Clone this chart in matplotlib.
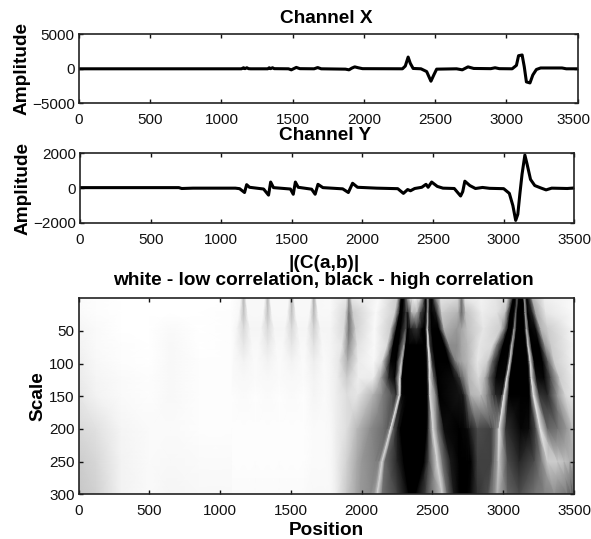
import numpy as np
import matplotlib
matplotlib.use('Agg')
import matplotlib.pyplot as plt
from matplotlib.transforms import ScaledTranslation

plt.rcParams['font.family'] = ['Liberation Sans', 'DejaVu Sans']

W, H = 591, 539

# channel X
x_pos = [0, 1140, 1155, 1165, 1178, 1190, 1205, 1325, 1335, 1345, 1358, 1370, 1470, 1490, 1510, 1525, 1550,
         1650, 1675, 1700, 1870, 1895, 1915, 1935, 1960, 1990, 2270, 2290, 2310, 2325, 2345, 2400, 2440,
         2470, 2490, 2510, 2650, 2690, 2730, 2770, 2890, 2920, 2950, 3040, 3070, 3085, 3110, 3125, 3140,
         3165, 3185, 3210, 3240, 3390, 3420, 3500]
x_amp = [0, 0, 150, 20, 150, 20, 0, 0, 150, 20, 150, 20, 0, -150, 50, 200, 20,
         0, 180, 0, -50, -150, 100, 280, 150, 20, 0, 400, 1700, 800, 50, 0, -400,
         -1800, -900, -50, 0, -150, 280, 50, 20, 150, 20, 0, 500, 1900, 2000, 300, -1900,
         -2050, -900, -100, 120, 120, 0, 0]

# channel Y
y_pos = [0, 700, 720, 800, 1100, 1130, 1165, 1180, 1200, 1300, 1335, 1350, 1370, 1490, 1510, 1525, 1545,
         1640, 1665, 1685, 1720, 1860, 1900, 1930, 1965, 2100, 2250, 2290, 2320, 2340, 2370, 2420, 2450,
         2465, 2490, 2530, 2570, 2650, 2695, 2710, 2725, 2760, 2800, 2850, 2900, 3000, 3040, 3065, 3085,
         3100, 3115, 3130, 3150, 3165, 3190, 3220, 3260, 3300, 3340, 3450, 3500]
y_amp = [30, 30, -20, 0, 0, -30, -250, 200, 50, -50, -400, 350, 30, -50, -350, 350, 50,
         -60, -350, 220, 30, -40, -250, 280, 50, 0, -30, -300, -80, -150, -20, 50, 220,
         50, 350, 100, 0, -20, -450, -200, 400, 150, -20, 40, -10, -30, -300, -1000, -1850,
         -1500, -300, 800, 1900, 1400, 500, 150, 20, -100, 0, -20, 10]

# |C(a,b)|: each entry follows one feature of the image down the scales
heat_scales = [0, 22, 47, 72, 97, 122, 148, 200, 250, 300]
heat_pos = [
    [0, 0, 0, 0, 0, 0, 0, 0, 0, 0],
    [120, 120, 120, 120, 120, 120, 120, 120, 120, 120],
    [300, 300, 300, 300, 300, 300, 300, 300, 300, 300],
    [500, 500, 500, 500, 500, 500, 500, 500, 500, 500],
    [650, 650, 650, 650, 650, 650, 650, 650, 650, 650],
    [850, 850, 850, 850, 850, 850, 850, 850, 850, 850],
    [1080, 1080, 1080, 1080, 1080, 1080, 1080, 1080, 1080, 1080],
    [1145, 1135, 1118, 1105, 1095, 1090, 1085, 1085, 1085, 1085],
    [1165, 1165, 1165, 1165, 1165, 1165, 1165, 1165, 1165, 1165],
    [1185, 1195, 1212, 1225, 1235, 1240, 1245, 1245, 1245, 1245],
    [1315, 1305, 1288, 1275, 1265, 1260, 1255, 1255, 1255, 1255],
    [1335, 1335, 1335, 1335, 1335, 1335, 1335, 1335, 1335, 1335],
    [1355, 1365, 1382, 1395, 1405, 1410, 1415, 1415, 1415, 1415],
    [1485, 1475, 1458, 1445, 1435, 1430, 1425, 1425, 1425, 1425],
    [1505, 1505, 1505, 1505, 1505, 1505, 1505, 1505, 1505, 1505],
    [1525, 1535, 1552, 1565, 1575, 1580, 1585, 1585, 1585, 1585],
    [1642, 1632, 1615, 1605, 1600, 1597, 1595, 1595, 1595, 1595],
    [1662, 1662, 1662, 1662, 1662, 1662, 1662, 1662, 1662, 1662],
    [1682, 1692, 1709, 1722, 1732, 1737, 1742, 1742, 1742, 1742],
    [1780, 1780, 1780, 1780, 1780, 1780, 1780, 1780, 1780, 1780],
    [1893, 1885, 1875, 1860, 1840, 1830, 1820, 1820, 1820, 1820],
    [1910, 1910, 1910, 1905, 1900, 1895, 1895, 1895, 1895, 1895],
    [1930, 1940, 1958, 1970, 1975, 1975, 1970, 1968, 1968, 1960],
    [2120, 2100, 2090, 2090, 2086, 2085, 2080, 2060, 2000, 1990],
    [2251, 2235, 2204, 2180, 2145, 2135, 2150, 2157, 2098, 2062],
    [2280, 2270, 2246, 2223, 2204, 2192, 2210, 2180, 2120, 2085],
    [2295, 2288, 2275, 2260, 2245, 2235, 2245, 2195, 2132, 2100],
    [2315, 2313, 2310, 2300, 2282, 2270, 2268, 2204, 2145, 2110],
    [2334, 2325, 2325, 2312, 2297, 2285, 2283, 2225, 2165, 2145],
    [2360, 2352, 2345, 2335, 2325, 2315, 2305, 2255, 2250, 2251],
    [2388, 2388, 2388, 2385, 2380, 2360, 2330, 2275, 2298, 2334],
    [2418, 2415, 2428, 2440, 2452, 2456, 2460, 2459, 2440, 2381],
    [2452, 2452, 2450, 2455, 2462, 2465, 2468, 2475, 2475, 2452],
    [2468, 2466, 2464, 2470, 2478, 2478, 2482, 2504, 2534, 2570],
    [2480, 2478, 2475, 2484, 2499, 2510, 2523, 2534, 2570, 2605],
    [2492, 2492, 2495, 2505, 2520, 2534, 2546, 2582, 2629, 2652],
    [2510, 2525, 2546, 2585, 2617, 2650, 2690, 2690, 2690, 2690],
    [2558, 2565, 2582, 2620, 2664, 2690, 2715, 2730, 2740, 2740],
    [2680, 2680, 2672, 2675, 2685, 2700, 2730, 2745, 2755, 2755],
    [2705, 2705, 2705, 2705, 2710, 2725, 2747, 2760, 2771, 2771],
    [2730, 2735, 2745, 2748, 2750, 2755, 2771, 2818, 2818, 2818],
    [2840, 2850, 2860, 2830, 2818, 2825, 2842, 2912, 2912, 2889],
    [2950, 2960, 2980, 2925, 2889, 2870, 2885, 2930, 2925, 2905],
    [3030, 3015, 3007, 2955, 2924, 2900, 2920, 2950, 2940, 2930],
    [3072, 3050, 3035, 3000, 2971, 2950, 2945, 2958, 2952, 2945],
    [3085, 3075, 3065, 3045, 3030, 3010, 2990, 2965, 2960, 2953],
    [3099, 3089, 3078, 3061, 3047, 3026, 3007, 2971, 2967, 2960],
    [3112, 3100, 3095, 3080, 3065, 3048, 3040, 3018, 3030, 3030],
    [3125, 3125, 3125, 3125, 3125, 3125, 3125, 3125, 3113, 3113],
    [3140, 3142, 3148, 3160, 3172, 3178, 3184, 3184, 3219, 3219],
    [3147, 3152, 3158, 3170, 3182, 3190, 3198, 3231, 3270, 3290],
    [3148, 3155, 3165, 3175, 3191, 3198, 3215, 3262, 3313, 3361],
    [3167, 3172, 3184, 3200, 3219, 3235, 3255, 3314, 3384, 3450],
    [3190, 3205, 3230, 3255, 3278, 3290, 3314, 3384, 3430, 3480],
    [3207, 3230, 3266, 3295, 3318, 3335, 3384, 3450, 3470, 3495],
    [3290, 3300, 3314, 3340, 3361, 3400, 3440, 3490, 3495, 3498],
    [3500, 3500, 3500, 3500, 3500, 3500, 3500, 3500, 3500, 3500],
]
heat_grey = [
    [.98, .98, .96, .95, .93, .92, .90, .85, .80, .78],
    [.99, .99, .98, .98, .97, .96, .95, .88, .84, .82],
    [1, 1, 1, .99, .99, .98, .98, .96, .95, .95],
    [1, 1, 1, 1, 1, .99, .99, .98, .98, .98],
    [1, 1, .98, .97, .97, .97, .97, .98, .97, .96],
    [1, 1, 1, 1, .99, .99, .99, .99, .98, .97],
    [1, .99, .99, .99, .99, .99, .99, .99, .98, .97],
    [.97, .97, .96, .97, .98, .98, .99, .99, .99, .98],
    [.72, .75, .85, .90, .95, .97, .98, .99, .99, .98],
    [.97, .97, .96, .97, .98, .98, .99, .99, .99, .98],
    [.97, .97, .96, .97, .98, .98, .99, .99, .99, .98],
    [.72, .75, .85, .91, .95, .97, .98, .99, .99, .98],
    [.97, .97, .96, .97, .98, .98, .99, .99, .99, .98],
    [.97, .97, .96, .97, .98, .98, .99, .99, .99, .98],
    [.70, .75, .85, .90, .95, .97, .98, .99, .99, .98],
    [.97, .97, .96, .97, .98, .98, .99, .99, .99, .98],
    [.97, .97, .96, .97, .98, .98, .99, .99, .99, .98],
    [.68, .72, .82, .88, .93, .95, .96, .98, .98, .97],
    [.97, .97, .96, .97, .98, .98, .98, .98, .98, .97],
    [.98, .97, .96, .96, .96, .96, .96, .97, .97, .97],
    [.90, .85, .85, .90, .90, .92, .93, .93, .93, .93],
    [.55, .45, .45, .55, .68, .80, .87, .87, .82, .78],
    [.90, .80, .82, .88, .92, .93, .90, .72, .66, .66],
    [.98, .98, .98, .98, .97, .92, .70, .55, .60, .60],
    [.80, .80, .80, .85, .85, .65, .50, .42, .50, .55],
    [0, 0, 0, 0, .02, .15, .33, .38, .50, .60],
    [0, 0, 0, 0, 0, .02, .20, .50, .65, .70],
    [.40, .20, .30, .60, .80, .90, .90, .90, .82, .85],
    [.80, .10, 0, 0, 0, 0, .02, .35, .42, .45],
    [.92, .70, .10, 0, 0, 0, 0, .10, .15, .25],
    [.95, .72, .20, 0, 0, 0, 0, 0, 0, 0],
    [.80, .30, 0, 0, 0, 0, 0, 0, 0, 0],
    [0, 0, 0, .02, .10, .10, .10, .30, .30, .25],
    [.50, .60, .85, .95, .95, .90, .85, .85, .85, .80],
    [.10, .10, .20, .20, .20, .35, .50, .50, .45, .40],
    [0, 0, 0, 0, 0, 0, 0, .05, .10, .10],
    [.30, .10, 0, 0, 0, .05, .08, 0, 0, 0],
    [.90, .80, .70, .55, .50, .20, .10, .03, 0, 0],
    [.85, .70, .60, .55, .60, .35, .25, .05, 0, .02],
    [.45, .40, .65, .65, .65, .50, .45, .10, 0, .05],
    [.90, .75, .75, .72, .72, .70, .70, .30, .25, .20],
    [.95, .93, .90, .90, .90, .85, .75, .25, .25, .30],
    [.90, .88, .80, .85, .80, .70, .55, .35, .35, .40],
    [.85, .75, .50, .50, .40, .40, .30, .50, .50, .50],
    [0, 0, 0, 0, 0, .02, .15, .60, .55, .60],
    [0, 0, 0, 0, .02, .02, .10, .70, .65, .65],
    [.30, .40, .60, .75, .85, .90, .90, .90, .80, .70],
    [.02, 0, 0, 0, 0, 0, 0, .20, .30, .40],
    [0, 0, 0, 0, 0, 0, 0, .02, .15, .30],
    [0, 0, 0, 0, 0, 0, 0, .05, .30, .45],
    [.20, .20, .30, .35, .30, .30, .40, .30, .50, .50],
    [.60, .65, .70, .85, .90, .90, .90, .90, .80, .55],
    [0, 0, 0, 0, 0, .05, .20, .40, .80, .45],
    [.30, .15, .05, 0, 0, .02, .15, .45, .75, .38],
    [.70, .65, .70, .60, .40, .30, .60, .60, .70, .33],
    [.93, .90, .80, .80, .80, .80, .85, .73, .66, .31],
    [.98, .98, .97, .96, .95, .93, .90, .75, .65, .30],
]

x_ticks = [0, 500, 1000, 1500, 2000, 2500, 3000, 3500]
xx_ticks = [-5000, 0, 5000]
yy_ticks = [-2000, 0, 2000]
scale_ticks = [50, 100, 150, 200, 250, 300]


def make_ax(left, right, top, bottom, last_shift=0):
    ax = fig.add_axes([left / W, 1 - bottom / H, (right - left) / W, (bottom - top) / H])
    ax.set_xlim(0, 3500)
    ax.set_xticks(x_ticks)
    ax.tick_params(direction='in', top=True, right=True, length=3, width=1, labelsize=11, pad=3, colors='#111111')
    ax.tick_params(axis='x', pad=7)
    for s in ax.spines.values():
        s.set_linewidth(1.2)
        s.set_color('#222222')
    # last label sits right on the picture edge
    lab = ax.get_xticklabels()[-1]
    lab.set_transform(lab.get_transform() + ScaledTranslation(-last_shift / 100, 0, fig.dpi_scale_trans))
    return ax


fig = plt.figure(figsize=(W / 100, H / 100), dpi=100)

ax1 = make_ax(79, 577.7, 34.3, 103.3, last_shift=4)
ax1.plot(x_pos, x_amp, color='black', lw=2.2)
ax1.set_ylim(-5000, 5000)
ax1.set_yticks(xx_ticks)
ax1.set_ylabel('Amplitude', fontsize=13.7, fontweight='bold', labelpad=1)
ax1.set_title('Channel X', fontsize=13.7, fontweight='bold', pad=8.4, x=0.495)

ax2 = make_ax(80, 574.3, 153.3, 223)
ax2.plot(y_pos, y_amp, color='black', lw=2.2)
ax2.set_ylim(-2000, 2000)
ax2.set_yticks(yy_ticks)
ax2.set_ylabel('Amplitude', fontsize=13.7, fontweight='bold', labelpad=1)
ax2.set_title('Channel Y', fontsize=13.7, fontweight='bold', pad=9.4, x=0.495)

ax3 = make_ax(78.7, 574, 298.3, 494.3)
grey = np.array(heat_grey).T
pos = np.array(heat_pos).T
sc = np.tile(np.array(heat_scales)[:, None], (1, pos.shape[1]))
ax3.pcolormesh(pos, sc, grey, shading='gouraud', cmap='gray', vmin=0, vmax=1, rasterized=True)
ax3.set_ylim(300, 0)
ax3.set_yticks(scale_ticks)
ax3.set_xlabel('Position', fontsize=13.7, fontweight='bold', labelpad=3)
ax3.set_ylabel('Scale', fontsize=13.7, fontweight='bold', labelpad=2)
ax3.set_title('|(C(a,b)|\nwhite - low correlation, black - high correlation', fontsize=13.7, fontweight='bold',
              pad=9.4, linespacing=1.05, x=0.495)

fig.savefig('out.png', dpi=100)
